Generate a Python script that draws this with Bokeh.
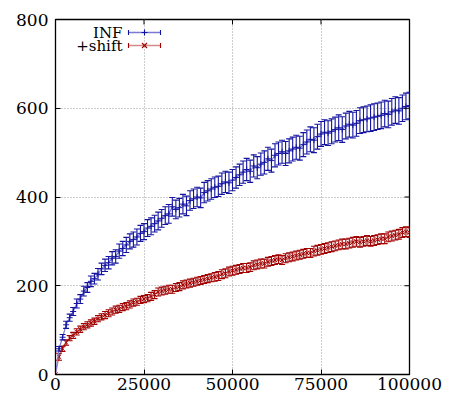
from bokeh.plotting import figure
from bokeh.models import (Range1d, FixedTicker, BasicTickFormatter, Label, Arrow)
from bokeh.embed import file_html
from bokeh.resources import INLINE

# ---- data ----
x_vals = list(range(0, 101000, 1000))

inf_mean = [0, 58, 84, 112, 128, 142, 160, 170, 188, 196,
            210, 216, 226, 238, 246, 252, 262, 266, 278, 284,
            292, 300, 304, 310, 318, 322, 330, 334, 340, 346,
            352, 358, 362, 378, 372, 376, 384, 380, 392, 396,
            400, 398, 410, 414, 418, 422, 424, 430, 434, 432,
            438, 444, 450, 456, 462, 458, 470, 466, 474, 478,
            486, 482, 494, 498, 502, 498, 504, 508, 512, 510,
            518, 524, 530, 528, 536, 542, 546, 544, 548, 552,
            556, 552, 560, 564, 562, 566, 572, 574, 576, 578,
            580, 582, 584, 588, 586, 592, 596, 594, 600, 604,
            606]
inf_err = [0, 5, 6, 8, 8, 9, 10, 10, 11, 11,
           12, 12, 13, 13, 14, 14, 15, 15, 16, 16,
           17, 17, 17, 18, 18, 18, 19, 19, 19, 20,
           20, 20, 21, 21, 21, 21, 22, 22, 22, 22,
           22, 22, 23, 23, 23, 23, 23, 24, 24, 24,
           24, 24, 24, 25, 25, 25, 25, 25, 25, 26,
           26, 26, 26, 26, 26, 27, 27, 27, 27, 27,
           27, 27, 28, 28, 28, 28, 28, 28, 28, 28,
           29, 29, 29, 29, 29, 29, 29, 29, 29, 30,
           30, 30, 30, 30, 30, 30, 30, 30, 30, 30,
           30]

shift_mean = [0, 40, 58, 72, 82, 88, 96, 102, 108, 112,
              116, 120, 126, 130, 134, 138, 142, 146, 148, 152,
              154, 158, 162, 164, 168, 170, 172, 176, 180, 186,
              188, 190, 192, 192, 196, 198, 202, 204, 206, 208,
              210, 212, 214, 216, 218, 220, 222, 226, 228, 232,
              234, 236, 238, 240, 240, 242, 246, 248, 250, 250,
              254, 256, 258, 260, 258, 262, 264, 266, 268, 270,
              272, 274, 274, 278, 280, 282, 284, 286, 288, 290,
              292, 294, 294, 296, 298, 300, 298, 300, 302, 300,
              302, 304, 306, 306, 310, 312, 314, 316, 320, 322,
              320]
shift_err = [0, 8, 6, 6, 6, 7, 7, 7, 7, 7,
             7, 7, 7, 7, 8, 8, 8, 8, 8, 8,
             8, 8, 8, 8, 8, 8, 8, 9, 9, 9,
             9, 9, 9, 9, 9, 9, 9, 9, 9, 9,
             9, 9, 9, 9, 9, 10, 10, 10, 10, 10,
             10, 10, 10, 10, 10, 10, 10, 10, 10, 10,
             10, 10, 10, 10, 10, 10, 10, 10, 10, 10,
             10, 10, 10, 11, 11, 11, 11, 11, 11, 11,
             11, 11, 11, 11, 11, 11, 11, 11, 11, 11,
             11, 11, 11, 11, 11, 11, 11, 11, 11, 11,
             11]

x_ticks = [0, 25000, 50000, 75000, 100000]
y_ticks = [0, 200, 400, 600, 800]
X_MAX = 100000
Y_MAX = 800

FONT = "DejaVu Serif"
BLUE = "#1414a0"
BLUE_L = "#7a7ad6"
RED = "#a00000"
RED_L = "#d48a8a"

FW, FH = 354, 355

p = figure(frame_width=FW, frame_height=FH, output_backend="svg", toolbar_location=None,
           x_range=Range1d(0, X_MAX), y_range=Range1d(0, Y_MAX),
           min_border_left=55, min_border_right=40, min_border_top=19,
           min_border_bottom=0)

p.outline_line_color = "black"
p.outline_line_width = 1.3
p.background_fill_color = "white"
p.border_fill_color = "white"

for ax in (p.xaxis[0], p.yaxis[0]):
    ax.major_tick_in = 5
    ax.major_tick_out = 0
    ax.minor_tick_line_color = None
    ax.axis_line_color = "black"
    ax.major_label_text_font = FONT
    ax.major_label_text_font_size = "17px"
    ax.major_label_text_color = "black"
    ax.formatter = BasicTickFormatter(use_scientific=False)

p.xaxis[0].ticker = FixedTicker(ticks=x_ticks)
p.yaxis[0].ticker = FixedTicker(ticks=y_ticks)
p.xaxis[0].major_label_standoff = 3
p.yaxis[0].major_label_standoff = 7

p.xgrid.ticker = FixedTicker(ticks=x_ticks)
p.ygrid.ticker = FixedTicker(ticks=y_ticks)
for g in (p.xgrid[0], p.ygrid[0]):
    g.grid_line_color = "#9a9a9a"
    g.grid_line_dash = "1 2"
    g.grid_line_width = 1

# inward ticks on top and right edges
tick_dy = 5 * Y_MAX / FH
tick_dx = 5 * X_MAX / FW
for t in x_ticks[1:-1]:
    p.add_layout(Arrow(x_start=t, y_start=Y_MAX, x_end=t, y_end=Y_MAX - tick_dy,
                       end=None, line_color="black", line_width=1))
for t in y_ticks[1:-1]:
    p.add_layout(Arrow(x_start=X_MAX, y_start=t, x_end=X_MAX - tick_dx, y_end=t,
                       end=None, line_color="black", line_width=1))

def series(mean, err, dark, light, marker):
    lo = [m - e for m, e in zip(mean, err)]
    hi = [m + e for m, e in zip(mean, err)]
    p.line(x_vals, mean, line_color=light, line_width=1.2)
    p.segment(x0=x_vals, y0=lo, x1=x_vals, y1=hi, line_color=dark, line_width=1.1)
    p.scatter(x_vals, lo, marker="dash", size=6, line_color=dark, line_width=1.1)
    p.scatter(x_vals, hi, marker="dash", size=6, line_color=dark, line_width=1.1)
    p.scatter(x_vals, mean, marker=marker, size=6, line_color=dark, line_width=1)

series(shift_mean, shift_err, RED, RED_L, "x")
series(inf_mean, inf_err, BLUE, BLUE_L, "cross")

# ---- legend (text left, sample right), screen units from frame bottom-left ----
def seg(x0, y0, x1, y1, color, w=1.1):
    p.add_layout(Arrow(x_start=x0, y_start=y0, x_end=x1, y_end=y1,
                       start_units="screen", end_units="screen",
                       end=None, line_color=color, line_width=w))

LX0, LX1, LXM, TX = 73, 105, 89, 67
rows = [(FH - 13, "INF", BLUE, BLUE_L, "cross"),
        (FH - 26, "+shift", RED, RED_L, "x")]
for y, name, dark, light, mk in rows:
    p.add_layout(Label(x=TX, y=y, x_units="screen", y_units="screen", text=name,
                       text_align="right", text_baseline="middle",
                       text_font=FONT, text_font_size="15px", text_color="black"))
    seg(LX0, y, LX1, y, light, 1.3)
    seg(LX0, y - 2.5, LX0, y + 2.5, dark)
    seg(LX1, y - 2.5, LX1, y + 2.5, dark)
    if mk == "cross":
        seg(LXM - 3, y, LXM + 3, y, dark)
        seg(LXM, y - 3, LXM, y + 3, dark)
    else:
        seg(LXM - 2.5, y - 2.5, LXM + 2.5, y + 2.5, dark)
        seg(LXM - 2.5, y + 2.5, LXM + 2.5, y - 2.5, dark)

open("out.html", "w").write(file_html(p, INLINE))
